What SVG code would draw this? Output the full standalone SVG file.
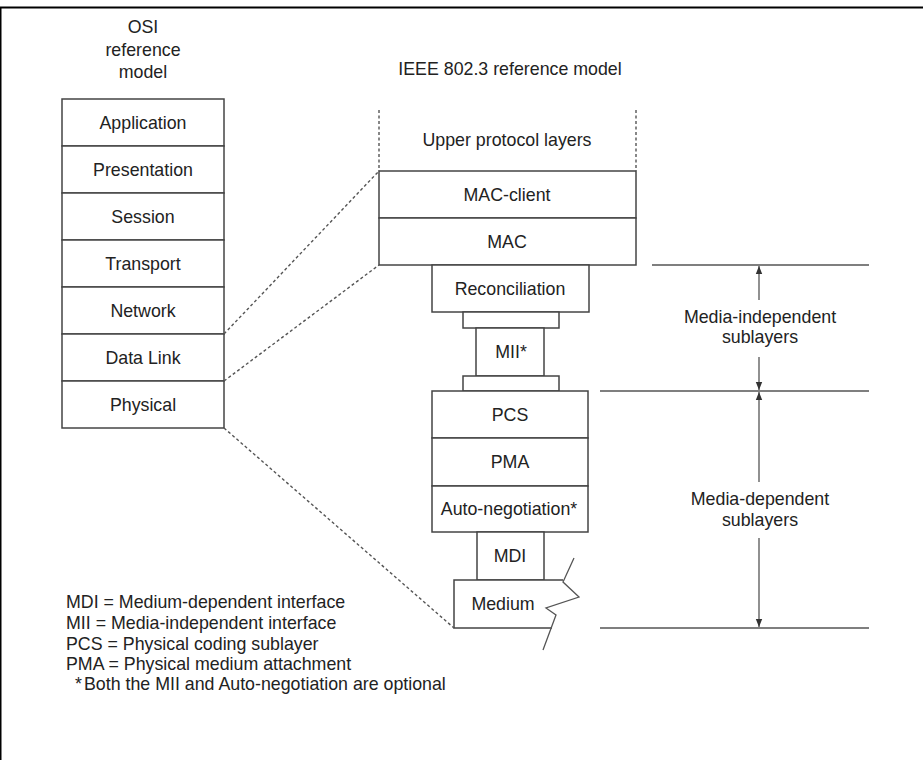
<svg xmlns="http://www.w3.org/2000/svg" width="923" height="770" viewBox="0 0 923 770">
<style>
text{font-family:"Liberation Sans",Arial,Helvetica,sans-serif;font-size:17.8px;fill:#222;}
.c{text-anchor:middle;}
.box{fill:#fff;stroke:#444;stroke-width:1.5;}
.dash{fill:none;stroke:#555;stroke-width:1.4;stroke-dasharray:3,2.5;}
.ln{fill:none;stroke:#555;stroke-width:1.3;}
</style>
<defs>
<marker id="ah" viewBox="0 0 8 8" refX="8" refY="4" markerWidth="8" markerHeight="8" orient="auto" markerUnits="userSpaceOnUse">
<path d="M0,0.8 L8,4 L0,7.2 Z" fill="#333"/>
</marker>
</defs>
<rect x="0" y="0" width="923" height="770" fill="#fff"/>
<g id="frame">
<line x1="0" y1="7.5" x2="923" y2="7.5" stroke="#000" stroke-width="2"/>
<line x1="0.75" y1="7" x2="0.75" y2="760" stroke="#000" stroke-width="1.5"/>
</g>
<g id="osi-title">
<text class="c" x="143" y="33">OSI</text>
<text class="c" x="143" y="56">reference</text>
<text class="c" x="143" y="78">model</text>
</g>
<g id="osi-application"><rect class="box" x="62" y="99" width="162" height="47"/><text class="c" x="143" y="129">Application</text></g>
<g id="osi-presentation"><rect class="box" x="62" y="146" width="162" height="47"/><text class="c" x="143" y="176">Presentation</text></g>
<g id="osi-session"><rect class="box" x="62" y="193" width="162" height="47"/><text class="c" x="143" y="223">Session</text></g>
<g id="osi-transport"><rect class="box" x="62" y="240" width="162" height="47"/><text class="c" x="143" y="270">Transport</text></g>
<g id="osi-network"><rect class="box" x="62" y="287" width="162" height="47"/><text class="c" x="143" y="317">Network</text></g>
<g id="osi-datalink"><rect class="box" x="62" y="334" width="162" height="47"/><text class="c" x="143" y="364">Data Link</text></g>
<g id="osi-physical"><rect class="box" x="62" y="381" width="162" height="47"/><text class="c" x="143" y="411">Physical</text></g>

<g id="ieee-title"><text class="c" x="510" y="75">IEEE 802.3 reference model</text></g>
<g id="upper-layers">
<line class="dash" x1="379" y1="110" x2="379" y2="171"/>
<line class="dash" x1="636" y1="110" x2="636" y2="171"/>
<text class="c" x="507" y="146">Upper protocol layers</text>
</g>
<g id="mac-client"><rect class="box" x="379" y="171" width="257" height="47"/><text class="c" x="507" y="201">MAC-client</text></g>
<g id="mac"><rect class="box" x="379" y="218" width="257" height="47"/><text class="c" x="507" y="248">MAC</text></g>
<g id="reconciliation"><rect class="box" x="432" y="265" width="157" height="47"/><text class="c" x="510" y="295">Reconciliation</text></g>
<g id="mii">
<rect class="box" x="463" y="312" width="96" height="16"/>
<rect class="box" x="476" y="328" width="68" height="48"/>
<rect class="box" x="463" y="376" width="96" height="15"/>
<text class="c" x="511" y="358">MII*</text>
</g>
<g id="pcs"><rect class="box" x="432" y="391" width="156" height="47"/><text class="c" x="510" y="421">PCS</text></g>
<g id="pma"><rect class="box" x="432" y="438" width="156" height="48"/><text class="c" x="510" y="468">PMA</text></g>
<g id="autoneg"><rect class="box" x="432" y="486" width="156" height="46"/><text class="c" x="509" y="515">Auto-negotiation*</text></g>
<g id="mdi"><rect class="box" x="477" y="532" width="67" height="48"/><text class="c" x="510" y="562">MDI</text></g>
<g id="medium">
<path class="box" d="M563,580 L454,580 L454,628 L552,628"/>
<path class="ln" d="M574,558 L563,582 L579,597 L546,608 L556,615 L543,650" stroke="#444" stroke-width="1.5"/>
<text class="c" x="503" y="610">Medium</text>
</g>

<g id="connectors">
<line class="dash" x1="224" y1="334" x2="379" y2="171"/>
<line class="dash" x1="224" y1="381" x2="379" y2="265"/>
<line class="dash" x1="224" y1="428" x2="454" y2="628"/>
<line class="ln" x1="652" y1="265" x2="869" y2="265"/>
<line class="ln" x1="600" y1="391" x2="869" y2="391"/>
<line class="ln" x1="600" y1="628" x2="869" y2="628"/>
<line class="ln" x1="759" y1="300" x2="759" y2="266" marker-end="url(#ah)"/>
<line class="ln" x1="759" y1="357" x2="759" y2="390" marker-end="url(#ah)"/>
<line class="ln" x1="759" y1="482" x2="759" y2="392" marker-end="url(#ah)"/>
<line class="ln" x1="759" y1="538" x2="759" y2="627" marker-end="url(#ah)"/>
</g>
<g id="label-independent">
<text class="c" x="760" y="323">Media-independent</text>
<text class="c" x="760" y="343">sublayers</text>
</g>
<g id="label-dependent">
<text class="c" x="760" y="505">Media-dependent</text>
<text class="c" x="760" y="526">sublayers</text>
</g>
<g id="legend">
<text x="66" y="608">MDI = Medium-dependent interface</text>
<text x="66" y="629">MII = Media-independent interface</text>
<text x="66" y="650">PCS = Physical coding sublayer</text>
<text x="66" y="670">PMA = Physical medium attachment</text>
<text x="75" y="690">*<tspan x="84">Both the MII and Auto-negotiation are optional</tspan></text>
</g>
</svg>
